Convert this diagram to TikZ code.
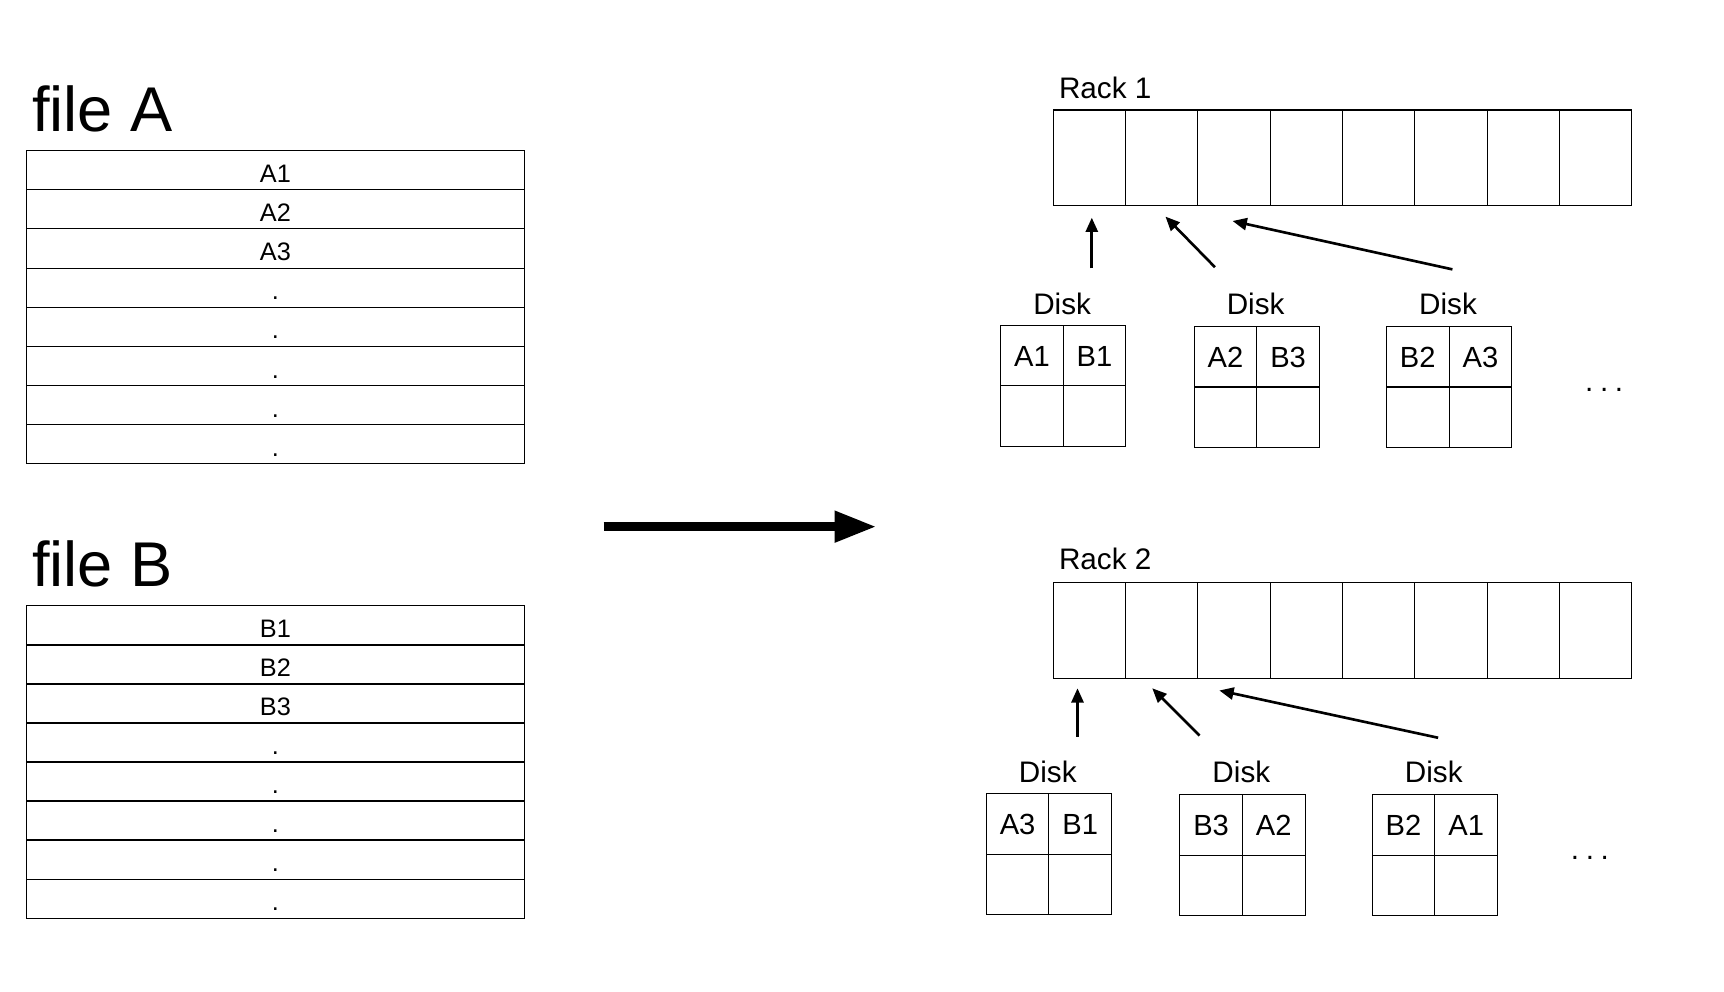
\documentclass[tikz,border=0pt]{standalone}
\usepackage{fontspec}
\setmainfont{Liberation Sans}
\usetikzlibrary{arrows.meta}
\begin{document}
\begin{tikzpicture}[x=1pt,y=-1pt,
  rowbox/.style={draw,line width=1pt,minimum width=453pt,minimum height=35.6pt,inner sep=0pt,text height=22pt,text depth=0pt,font=\fontsize{23}{26}\selectfont},
  rcell/.style={draw,line width=1pt,minimum width=65.75pt,minimum height=87pt,inner sep=0pt},
  dcell/.style={draw,line width=1pt,minimum width=57pt,minimum height=55pt,inner sep=0pt,text height=19pt,text depth=0pt,font=\fontsize{26.5}{30}\selectfont},
  title/.style={anchor=base west,inner sep=0pt,font=\fontsize{57.5}{62}\selectfont},
  lbl/.style={anchor=base,inner sep=0pt,font=\fontsize{27}{30}\selectfont},
  small/.style={line width=2.4pt,-{Triangle[length=13pt,width=11pt]}},
  big/.style={line width=8pt,-{Triangle[length=38pt,width=27pt]}}
]
\useasboundingbox (0,0) rectangle (1568,902);
\fill[white] (0,0) rectangle (1568,902);

% file A
\node[title] (tA) at (29,120) {file A};
\foreach \t [count=\k from 0] in {A1,A2,A3,.,.,.,.,.}
  \node[rowbox] (fa\k) at (250.5,154.8+35.6*\k) {\t};
% file B
\node[title] (tB) at (29,533) {file B};
\foreach \t [count=\k from 0] in {B1,B2,B3,.,.,.,.,.}
  \node[rowbox] (fb\k) at (250.5,568.8+35.5*\k) {\t};

% big arrow
\coordinate (bs) at (549,479);
\coordinate (be) at (797,479);
\draw[big] (bs) -- (be);

% Rack 1
\node[lbl,anchor=base west] (rk1) at (963,90) {Rack 1};
\foreach \i in {0,...,7}
  \node[rcell] (ra\i) at (990.875+65.75*\i,143.5) {};
% disks rack 1
\node[lbl] (d1l) at (966,286) {Disk};
\node[dcell] (d1a) at (938.5,323.5) {A1};
\node[dcell] (d1b) at (995.5,323.5) {B1};
\node[dcell] (d1c) at (938.5,378.5) {};
\node[dcell] (d1d) at (995.5,378.5) {};
\node[lbl] (d2l) at (1142,286) {Disk};
\node[dcell] (d2a) at (1114.5,324.5) {A2};
\node[dcell] (d2b) at (1171.5,324.5) {B3};
\node[dcell] (d2c) at (1114.5,379.5) {};
\node[dcell] (d2d) at (1171.5,379.5) {};
\node[lbl] (d3l) at (1317,286) {Disk};
\node[dcell] (d3a) at (1289.5,324.5) {B2};
\node[dcell] (d3b) at (1346.5,324.5) {A3};
\node[dcell] (d3c) at (1289.5,379.5) {};
\node[dcell] (d3d) at (1346.5,379.5) {};
\node[lbl] (dots1) at (1459,356) {.\hspace{6pt}.\hspace{6pt}.};
\coordinate (a1s) at (993,244); \coordinate (a1e) at (993,198);
\coordinate (a2s) at (1105,243); \coordinate (a2e) at (1060,197);
\coordinate (a3s) at (1321,245); \coordinate (a3e) at (1121,201);
\draw[small] (a1s) -- (a1e);
\draw[small] (a2s) -- (a2e);
\draw[small] (a3s) -- (a3e);

% Rack 2
\node[lbl,anchor=base west] (rk2) at (963,518) {Rack 2};
\foreach \i in {0,...,7}
  \node[rcell] (rb\i) at (990.875+65.75*\i,573.5) {};
\node[lbl] (e1l) at (953,712) {Disk};
\node[dcell] (e1a) at (925.5,749.5) {A3};
\node[dcell] (e1b) at (982.5,749.5) {B1};
\node[dcell] (e1c) at (925.5,804.5) {};
\node[dcell] (e1d) at (982.5,804.5) {};
\node[lbl] (e2l) at (1129,712) {Disk};
\node[dcell] (e2a) at (1101.5,750.5) {B3};
\node[dcell] (e2b) at (1158.5,750.5) {A2};
\node[dcell] (e2c) at (1101.5,805.5) {};
\node[dcell] (e2d) at (1158.5,805.5) {};
\node[lbl] (e3l) at (1304,712) {Disk};
\node[dcell] (e3a) at (1276.5,750.5) {B2};
\node[dcell] (e3b) at (1333.5,750.5) {A1};
\node[dcell] (e3c) at (1276.5,805.5) {};
\node[dcell] (e3d) at (1333.5,805.5) {};
\node[lbl] (dots2) at (1446,782) {.\hspace{6pt}.\hspace{6pt}.};
\coordinate (b1s) at (980,670); \coordinate (b1e) at (980,626);
\coordinate (b2s) at (1091,669); \coordinate (b2e) at (1048,626);
\coordinate (b3s) at (1308,671); \coordinate (b3e) at (1109,628);
\draw[small] (b1s) -- (b1e);
\draw[small] (b2s) -- (b2e);
\draw[small] (b3s) -- (b3e);
\end{tikzpicture}
\end{document}
